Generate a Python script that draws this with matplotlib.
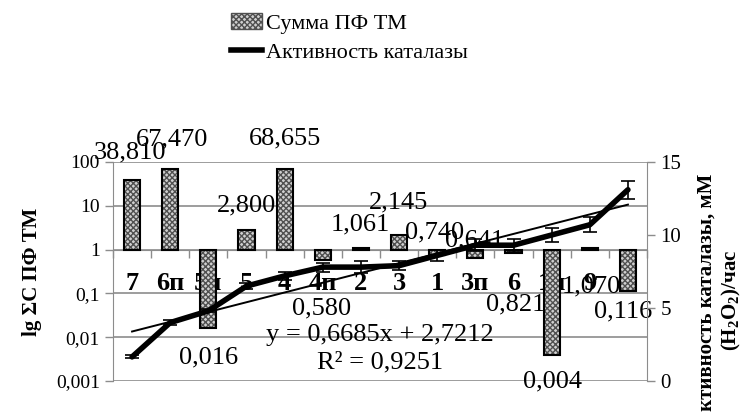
import matplotlib
matplotlib.use('Agg')
import numpy as np
import matplotlib.pyplot as plt
from matplotlib.patches import Patch
from matplotlib.lines import Line2D

plt.rcParams['font.family'] = ['Liberation Serif', 'DejaVu Serif']
plt.rcParams['mathtext.fontset'] = 'custom'
plt.rcParams['mathtext.rm'] = 'Liberation Serif'
plt.rcParams['mathtext.bf'] = 'Liberation Serif:bold'
plt.rcParams['hatch.linewidth'] = 1.0

# data
categories = ['7', '6п', '5п', '5', '4', '4п', '2', '3', '1', '3п', '6', '1п', '9', '8']
pf_sum = [38.810, 67.470, 0.016, 2.800, 68.655, 0.580, 1.061, 2.145, 0.740, 0.641, 0.821, 0.004, 1.070, 0.116]
catalase = [1.65, 4.0, 4.8, 6.5, 7.2, 7.8, 7.8, 7.9, 8.6, 9.3, 9.3, 10.0, 10.7, 13.1]
catalase_err = [0.1, 0.15, 0.1, 0.2, 0.3, 0.3, 0.4, 0.3, 0.35, 0.4, 0.45, 0.45, 0.5, 0.6]
trend_slope = 0.6685
trend_icept = 2.7212
trend_r2 = 0.9251

# where Excel put the data labels (pixels from bar end: up > 0)
label_up = [28, 30, -29, 25, 31, -48, 24, 33, 23, 18, -51, -27, -38, -21]
label_dx = [-2, 2, 0, 0, 0, -1, -1, -1, -3, -1, 2, 1, 2, -5]

grey = '#8c8c8c'
bar_face = '#d0d0d0'
bar_hatch = 'xxxxxx'
x = np.arange(len(categories))

fig = plt.figure(figsize=(7.49, 4.12), dpi=100)
ax = fig.add_axes([113 / 749, 1 - 381 / 412, 534 / 749, 219 / 412])
ax2 = ax.twinx()

# bars start from 1 on the log axis
heights = [v - 1 for v in pf_sum]
ax.bar(x, heights, bottom=1, width=0.42, facecolor=bar_face, hatch=bar_hatch, edgecolor='#505050', linewidth=0, zorder=3)
ax.bar(x, heights, bottom=1, width=0.42, facecolor='none', edgecolor='black', linewidth=1.5, zorder=4)

ax.set_yscale('log')
ax.set_ylim(1e-3, 1e2)
ax.set_xlim(-0.5, len(categories) - 0.5)
ax.set_yticks([1e-3, 1e-2, 1e-1, 1, 10, 100])
ax.set_yticklabels(['0,001', '0,01', '0,1', '1', '10', '100'], fontsize=14)
ax.yaxis.set_minor_locator(matplotlib.ticker.NullLocator())
ax.grid(axis='y', color=grey, linewidth=1.2)
ax.set_axisbelow(True)

ax.spines['bottom'].set_position(('data', 1))
ax.spines['bottom'].set_color(grey)
ax.spines['left'].set_color(grey)
ax.spines['top'].set_visible(False)
ax.spines['right'].set_visible(False)
ax.tick_params(axis='y', colors=grey, labelcolor='black', length=6, width=1)
ax.set_xticks(x)
ax.set_xticklabels(categories, fontsize=19, fontweight='bold')
ax.set_xticks(np.arange(-0.5, len(categories), 1), minor=True)
ax.tick_params(axis='x', which='major', length=0, pad=16)
ax.tick_params(axis='x', which='minor', length=6, width=1, color=grey)

for i, v in enumerate(pf_sum):
    ax.annotate(f'{v:.3f}'.replace('.', ','), xy=(i, v), xytext=(label_dx[i] * 0.72, label_up[i] * 0.72),
                textcoords='offset points', ha='center', va='center', fontsize=19, zorder=5)

ax.set_ylabel('lg ΣC ПФ ТМ', fontsize=15, fontweight='bold', labelpad=10)

# catalase activity on the right axis
ax2.plot(x, catalase, color='black', linewidth=4, solid_capstyle='round', zorder=5)
ax2.errorbar(x, catalase, yerr=catalase_err, fmt='none', ecolor='black', elinewidth=1.2, capsize=5, capthick=1.2, zorder=6)
ax2.plot(x, trend_slope * (x + 1) + trend_icept, color='black', linewidth=1.4, zorder=6)
ax2.set_ylim(0, 15)
ax2.set_yticks([0, 5, 10, 15])
ax2.set_yticklabels(['0', '5', '10', '15'], fontsize=15)
ax2.tick_params(axis='y', colors=grey, labelcolor='black', length=6, width=1)
for s in ['top', 'bottom', 'left']:
    ax2.spines[s].set_visible(False)
ax2.spines['right'].set_color(grey)

ax2.text(6.5, 3.15, f'y = {trend_slope:.4f}x + {trend_icept:.4f}'.replace('.', ','), ha='center', va='center', fontsize=19)
ax2.text(6.5, 1.25, f'R² = {trend_r2:.4f}'.replace('.', ','), ha='center', va='center', fontsize=19)

fig.text(720 / 749, 1 - 300 / 412, 'Активность каталазы, мМ\n(H$_\\mathbf{2}$O$_\\mathbf{2}$)/час', rotation=90,
         ha='center', va='center', fontsize=15, fontweight='bold', multialignment='center')

handles = [Patch(facecolor=bar_face, hatch=bar_hatch, edgecolor='#505050', linewidth=1),
           Line2D([0], [0], color='black', linewidth=4)]
fig.legend(handles, ['Сумма ПФ ТМ', 'Активность каталазы'], loc='upper left', bbox_to_anchor=(220 / 749, 1 - 2 / 412),
           frameon=False, fontsize=16, handlelength=1.4, handletextpad=0.15, labelspacing=0.38, borderpad=0)

fig.savefig('out.png', dpi=100)
